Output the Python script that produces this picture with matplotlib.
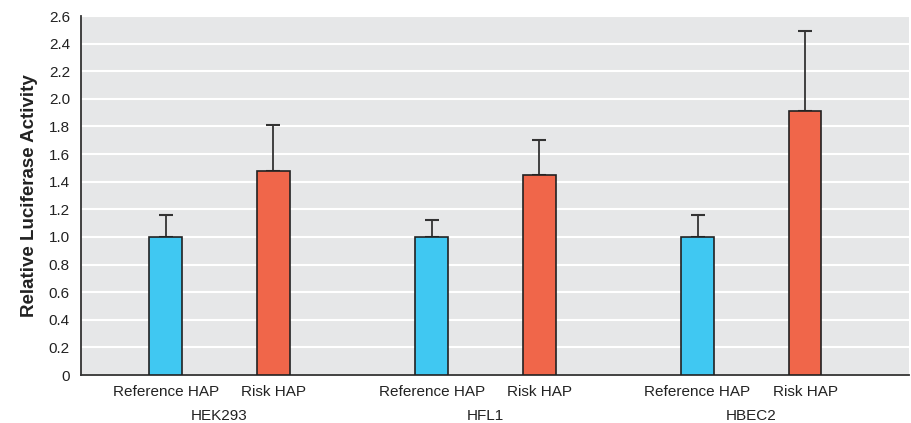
import matplotlib
matplotlib.use("Agg")
import matplotlib.pyplot as plt
import numpy as np

plt.rcParams['font.family'] = ['Liberation Sans', 'DejaVu Sans']

cells = ["HEK293", "HFL1", "HBEC2"]
haps = ["Reference HAP", "Risk HAP"]
ref_vals = [1.0, 1.0, 1.0]
ref_err = [0.16, 0.12, 0.16]
risk_vals = [1.48, 1.45, 1.91]
risk_err = [0.33, 0.25, 0.58]

fig = plt.figure(figsize=(9.12, 4.23), dpi=100)
ax = fig.add_axes([81/912, 48/423, 828/912, 359/423])
ax.set_facecolor('#e6e7e8')

x = np.arange(len(cells))
off = 0.202
w = 0.124
ekw = dict(ecolor='#333333', elinewidth=1.3, capsize=5, capthick=1.5)
ax.bar(x - off, ref_vals, w, color='#40c8f2', edgecolor='#222222', linewidth=1.2, zorder=3)
ax.errorbar(x - off, ref_vals, yerr=[np.zeros(3), ref_err], fmt='none', zorder=2, **ekw)
ax.bar(x + off, risk_vals, w, color='#f0664a', edgecolor='#222222', linewidth=1.2, zorder=3)
ax.errorbar(x + off, risk_vals, yerr=[np.zeros(3), risk_err], fmt='none', zorder=2, **ekw)

ax.set_xlim(-0.52, 2.593)
ax.set_ylim(0, 2.6)
yt = np.arange(0, 2.61, 0.2)
ax.set_yticks(yt)
ax.set_yticklabels(['0'] + ['%.1f' % v for v in yt[1:]], fontsize=11, color='#222222')
ax.tick_params(axis='y', length=0, pad=8)
ax.yaxis.grid(True, color='white', linewidth=1.5, zorder=0)
ax.set_axisbelow(True)

ax.set_xticks(list(x - off) + list(x + off))
ax.set_xticklabels([haps[0]] * 3 + [haps[1]] * 3, fontsize=11, color='#222222')
ax.tick_params(axis='x', length=0, pad=7)
for i, c in enumerate(cells):
    ax.text(x[i], -0.245, c, ha='center', va='top', fontsize=11,
            transform=ax.transData, color='#222222')

for s in ['top', 'right']:
    ax.spines[s].set_visible(False)
for s in ['left', 'bottom']:
    ax.spines[s].set_color('#333333')
    ax.spines[s].set_linewidth(1.3)

ax.set_ylabel('Relative Luciferase Activity', fontsize=13.5, fontweight='bold', color='#222222')
ax.yaxis.set_label_coords(-0.052, 0.5)

fig.savefig('out.png', dpi=100)
